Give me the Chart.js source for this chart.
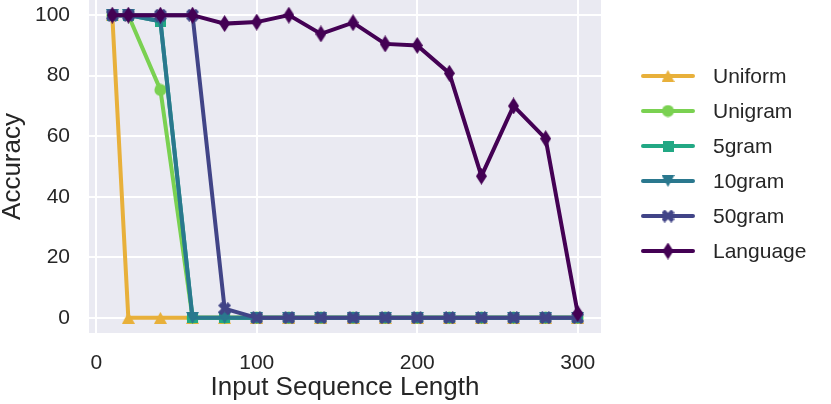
<!DOCTYPE html>
<html>
<head>
<meta charset="utf-8">
<script src="https://cdn.jsdelivr.net/npm/chart.js"></script>
<style>
  html, body { margin: 0; padding: 0; background: #fff; }
  #wrap { width: 831px; height: 404px; }
</style>
</head>
<body>
<div id="wrap"><canvas id="myChart" width="831" height="404"></canvas></div>
<script>
// data
const seqLengths = [10, 20, 40, 60, 80, 100, 120, 140, 160, 180, 200, 220, 240, 260, 280, 300];
const seriesNames = ['Uniform', 'Unigram', '5gram', '10gram', '50gram', 'Language'];
const uniformAcc  = [100, 0, 0, 0, 0, 0, 0, 0, 0, 0, 0, 0, 0, 0, 0, 0];
const unigramAcc  = [100, 100, 75.3, 0, 0, 0, 0, 0, 0, 0, 0, 0, 0, 0, 0, 0];
const gram5Acc    = [100, 100, 98, 0, 0, 0, 0, 0, 0, 0, 0, 0, 0, 0, 0, 0];
const gram10Acc   = [100, 100, 98, 0, 0, 0, 0, 0, 0, 0, 0, 0, 0, 0, 0, 0];
const gram50Acc   = [100, 100, 100, 100, 3, 0, 0, 0, 0, 0, 0, 0, 0, 0, 0, 0];
const languageAcc = [100, 100, 100, 100, 97.2, 97.7, 100, 93.8, 97.5, 90.5, 90, 80.8, 46.8, 70, 59.2, 1.5];
const xTicks = [0, 100, 200, 300];
const yTicks = [0, 20, 40, 60, 80, 100];

const colors = ['#e8b03a', '#7ad151', '#22a884', '#2a788e', '#414487', '#440154'];
const markerKinds = ['triUp', 'circle', 'square', 'triDown', 'xFilled', 'thinDiamond'];
const FONT = "'Liberation Sans', Arial, sans-serif";
const TEXT = '#262626';

// little canvases used as point styles (matplotlib-like markers)
function makeMarker(kind, color) {
  const c = document.createElement('canvas');
  let w = 13, h = 12;
  if (kind === 'circle' || kind === 'xFilled') { w = 13; h = 13; }
  if (kind === 'thinDiamond') { w = 11; h = 17; }
  if (kind === 'square') { w = 11; h = 11; }
  c.width = w; c.height = h;
  const g = c.getContext('2d');
  g.fillStyle = color;
  g.beginPath();
  if (kind === 'triUp') {
    g.moveTo(w / 2, 0); g.lineTo(w, h); g.lineTo(0, h);
  } else if (kind === 'triDown') {
    g.moveTo(0, 0); g.lineTo(w, 0); g.lineTo(w / 2, h);
  } else if (kind === 'circle') {
    g.arc(w / 2, h / 2, 6, 0, Math.PI * 2);
  } else if (kind === 'square') {
    g.rect(0, 0, w, h);
  } else if (kind === 'thinDiamond') {
    g.moveTo(w / 2, 0); g.lineTo(w, h / 2); g.lineTo(w / 2, h); g.lineTo(0, h / 2);
  } else if (kind === 'xFilled') {
    const t = 3.2;
    g.moveTo(t, 0); g.lineTo(w / 2, h / 2 - t); g.lineTo(w - t, 0); g.lineTo(w, t);
    g.lineTo(w / 2 + t, h / 2); g.lineTo(w, h - t); g.lineTo(w - t, h); g.lineTo(w / 2, h / 2 + t);
    g.lineTo(t, h); g.lineTo(0, h - t); g.lineTo(w / 2 - t, h / 2); g.lineTo(0, t);
  }
  g.closePath();
  g.fill();
  return c;
}

const markers = markerKinds.map((k, i) => makeMarker(k, colors[i]));
const allValues = [uniformAcc, unigramAcc, gram5Acc, gram10Acc, gram50Acc, languageAcc];

const datasets = seriesNames.map((name, i) => ({
  label: name,
  data: seqLengths.map((x, j) => ({ x: x, y: allValues[i][j] })),
  borderColor: colors[i],
  backgroundColor: colors[i],
  borderWidth: 4,
  pointStyle: markers[i],
  pointRadius: 6,
  pointHoverRadius: 6,
  order: seriesNames.length - i,
  clip: false
}));

const plotBg = {
  id: 'plotBg',
  beforeDraw(chart) {
    const a = chart.chartArea, ctx = chart.ctx;
    ctx.save();
    ctx.fillStyle = '#eaeaf2';
    ctx.fillRect(a.left, a.top, a.right - a.left, a.bottom - a.top);
    ctx.restore();
  }
};

// legend with line + marker, like matplotlib
const lineLegend = {
  id: 'lineLegend',
  afterDraw(chart) {
    const ctx = chart.ctx;
    ctx.save();
    seriesNames.forEach((name, i) => {
      const y = 76 + i * 35;
      ctx.strokeStyle = colors[i];
      ctx.lineWidth = 4;
      ctx.lineCap = 'round';
      ctx.beginPath();
      ctx.moveTo(643, y); ctx.lineTo(693, y);
      ctx.stroke();
      const m = markers[i];
      ctx.drawImage(m, 668 - m.width / 2, y - m.height / 2);
      ctx.fillStyle = TEXT;
      ctx.font = '21px ' + FONT;
      ctx.textBaseline = 'middle';
      ctx.textAlign = 'left';
      ctx.fillText(name, 713, y + 1);
    });
    ctx.restore();
  }
};

const ctx = document.getElementById('myChart').getContext('2d');
const myChart = new Chart(ctx, {
  type: 'line',
  data: { datasets: datasets },
  plugins: [plotBg, lineLegend],
  options: {
    responsive: false,
    animation: false,
    devicePixelRatio: 1,
    layout: { autoPadding: false, padding: { left: 0, right: 230, top: 0, bottom: 0 } },
    plugins: { legend: { display: false }, tooltip: { enabled: false } },
    scales: {
      x: {
        type: 'linear',
        min: -4.5,
        max: 314.5,
        afterBuildTicks: (s) => { s.ticks = xTicks.map(v => ({ value: v })); },
        afterFit: (s) => { s.height = 71; s.paddingLeft = 0; s.paddingRight = 0; },
        grid: { color: '#ffffff', lineWidth: 2, drawTicks: false },
        border: { display: false },
        ticks: { color: TEXT, font: { family: FONT, size: 21 }, padding: 18, maxRotation: 0 },
        title: {
          display: true, text: 'Input Sequence Length', color: TEXT,
          font: { family: FONT, size: 26, lineHeight: 1 }, padding: { top: 0, bottom: 3 }
        }
      },
      y: {
        min: -5,
        max: 105,
        afterBuildTicks: (s) => { s.ticks = yTicks.map(v => ({ value: v })); },
        afterFit: (s) => { s.width = 89; s.paddingTop = 0; s.paddingBottom = 0; },
        grid: { color: '#ffffff', lineWidth: 2, drawTicks: false },
        border: { display: false },
        ticks: { color: TEXT, font: { family: FONT, size: 21 }, padding: 19 },
        title: {
          display: true, text: 'Accuracy', color: TEXT,
          font: { family: FONT, size: 26, lineHeight: 1 }, padding: 0
        }
      }
    }
  }
});
</script>
</body>
</html>
